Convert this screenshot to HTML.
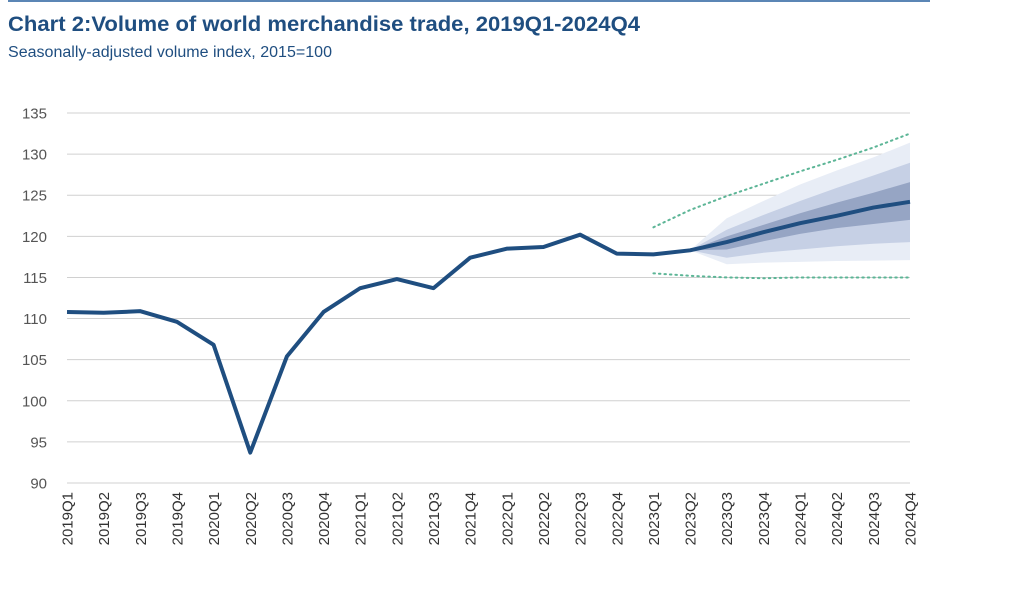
<!DOCTYPE html>
<html><head><meta charset="utf-8"><style>
body{margin:0;background:#fff;font-family:"Liberation Sans",sans-serif;}
#wrap{position:relative;width:1024px;height:590px;overflow:hidden;}
</style></head><body>
<div id="wrap">
<svg id="svg" width="1024" height="590" xmlns="http://www.w3.org/2000/svg">
<line x1="8" y1="1" x2="930" y2="1" stroke="#5b86b5" stroke-width="2"/>
<text x="8" y="31" font-size="21.5" font-weight="bold" fill="#1f4e80" textLength="632" lengthAdjust="spacingAndGlyphs">Chart 2:Volume of world merchandise trade, 2019Q1-2024Q4</text>
<text x="8" y="57" font-size="15.5" fill="#1f4e80" textLength="324" lengthAdjust="spacingAndGlyphs">Seasonally-adjusted volume index, 2015=100</text>
<g id="grid"></g><g id="fan"></g><g id="lines"></g><g id="xl"></g>
</svg></div>
<script>
const categories=["2019Q1","2019Q2","2019Q3","2019Q4","2020Q1","2020Q2","2020Q3","2020Q4","2021Q1","2021Q2","2021Q3","2021Q4","2022Q1","2022Q2","2022Q3","2022Q4","2023Q1","2023Q2","2023Q3","2023Q4","2024Q1","2024Q2","2024Q3","2024Q4"];
const volume=[110.8,110.7,110.9,109.6,106.8,93.7,105.4,110.8,113.7,114.8,113.7,117.4,118.5,118.7,120.2,117.9,117.8,118.3,119.3,120.5,121.6,122.5,123.5,124.2];
const fanStart=17;
const outerTop=[118.3,122.2,124.3,126.3,128.0,129.6,131.4];
const outerBottom=[118.3,116.6,116.8,116.9,117.0,117.05,117.1];
const midTop=[118.3,120.8,122.6,124.3,125.9,127.4,128.95];
const midBottom=[118.3,117.4,118.0,118.4,118.8,119.1,119.3];
const darkTop=[118.3,120.0,121.4,122.8,124.1,125.3,126.6];
const darkBottom=[118.3,118.4,119.4,120.3,121.0,121.5,122.0];
const dotStart=16;
const dottedUpper=[121.1,123.2,124.9,126.4,127.9,129.3,130.8,132.5];
const dottedLower=[115.5,115.2,115.0,114.9,115.0,115.0,115.0,115.0];
const yTicks=[90,95,100,105,110,115,120,125,130,135];
const NS="http://www.w3.org/2000/svg";
const x=i=>67+i*(910-67)/23;
const y=v=>483-(v-90)*(483-113)/45;
function mk(t,a,p){const e=document.createElementNS(NS,t);for(const k in a)e.setAttribute(k,a[k]);document.getElementById(p).appendChild(e);return e;}
yTicks.forEach(v=>{
 const l=mk('line',{x1:67,x2:910,y1:y(v),y2:y(v),stroke:'#d0d0d0','stroke-width':1},'grid');
 
 
 const t=mk('text',{x:47,y:y(v)+5.5,'text-anchor':'end','font-size':15,fill:'#555'},'grid');t.textContent=v;
 
 
});
function band(top,bot,fill,name){
 let pts=top.map((v,i)=>x(fanStart+i)+','+y(v));
 pts=pts.concat(bot.map((v,i)=>x(fanStart+i)+','+y(v)).reverse());
 const p=mk('polygon',{points:pts.join(' '),fill:fill},'fan');
 
 
}
band(outerTop,outerBottom,'#e8edf6','fan-outer-band');
band(midTop,midBottom,'#c6d0e5','fan-middle-band');
band(darkTop,darkBottom,'#96a5c4','fan-inner-band');
function poly(arr,start,attrs,name){
 const p=mk('polyline',Object.assign({points:arr.map((v,i)=>x(start+i)+','+y(v)).join(' '),fill:'none'},attrs),'lines');
 
 
}
poly(dottedUpper,dotStart,{stroke:'#5cb596','stroke-width':2,'stroke-dasharray':'1.5 4','stroke-linecap':'round'},'upper-bound-dotted');
poly(dottedLower,dotStart,{stroke:'#5cb596','stroke-width':2,'stroke-dasharray':'1.5 4','stroke-linecap':'round'},'lower-bound-dotted');
poly(volume,0,{stroke:'#1f4e80','stroke-width':4,'stroke-linejoin':'round'},'volume-line');
categories.forEach((c,i)=>{
 const t=mk('text',{x:0,y:0,transform:`translate(${x(i)+5.5},492) rotate(-90)`,'text-anchor':'end','font-size':15,fill:'#333'},'xl');
 t.textContent=c;
 
 
});
</script>
</body></html>
